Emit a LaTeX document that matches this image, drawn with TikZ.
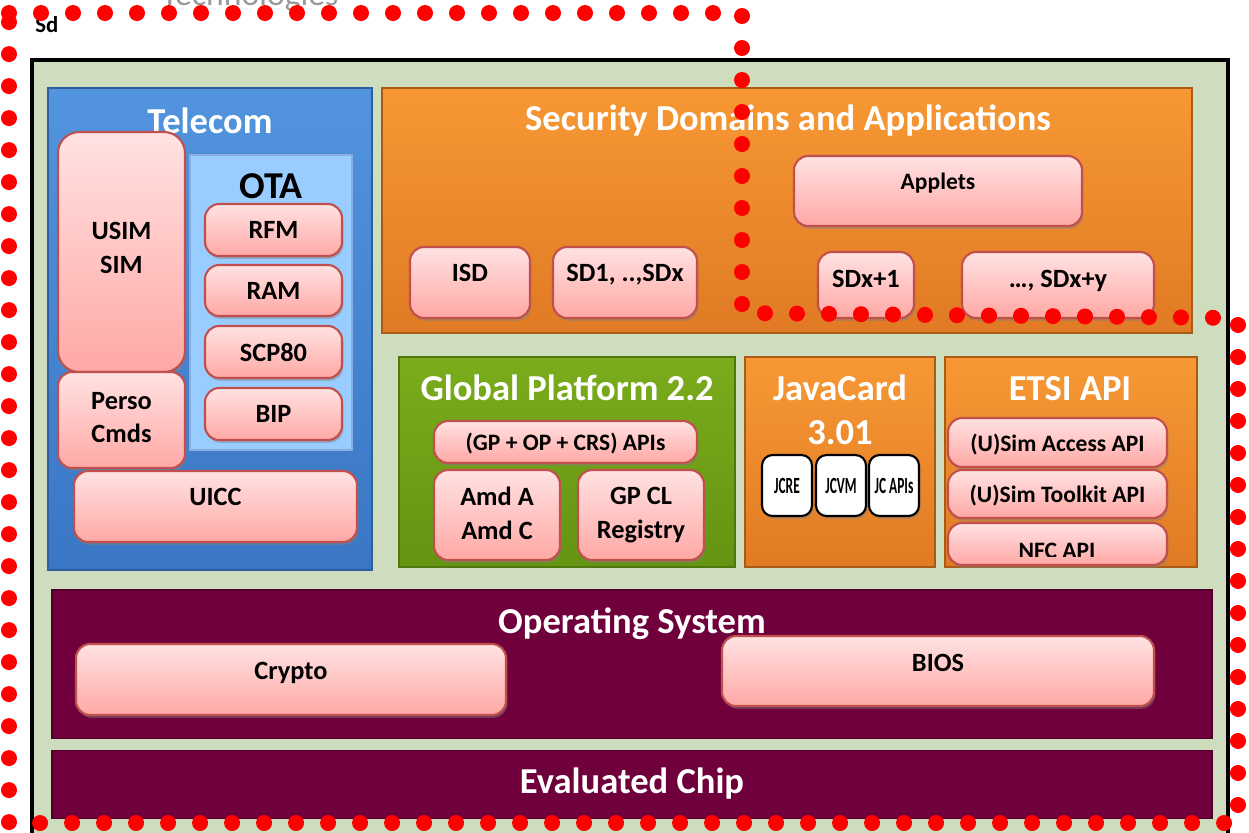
\documentclass[tikz,border=0pt]{standalone}
\usepackage{fontspec}
\setmainfont{Carlito}
\usetikzlibrary{fit,shadows}

\definecolor{framegreen}{RGB}{205,221,189}
\definecolor{teltop}{RGB}{82,148,222}
\definecolor{telbot}{RGB}{58,118,196}
\definecolor{otablue}{RGB}{153,204,255}
\definecolor{orangetop}{RGB}{247,152,52}
\definecolor{orangebot}{RGB}{224,122,36}
\definecolor{orangeline}{RGB}{170,90,20}
\definecolor{greentop}{RGB}{122,172,28}
\definecolor{greenbot}{RGB}{100,148,18}
\definecolor{maroon}{RGB}{112,0,60}
\definecolor{pinktop}{RGB}{255,226,226}
\definecolor{pinkbot}{RGB}{255,168,165}
\definecolor{pinkline}{RGB}{192,80,77}
\definecolor{dotred}{RGB}{255,0,0}

\newcommand{\titlefont}{\fontsize{10.4}{12.6}\selectfont\bfseries}
\newcommand{\boxfont}{\fontsize{7.5}{9.6}\selectfont\bfseries}
\newcommand{\apifont}{\fontsize{6.7}{8}\selectfont\bfseries}
\newcommand{\narrowtext}[1]{\scalebox{0.58}[1]{#1}}

\begin{document}
\begin{tikzpicture}[
  x=0.1mm, y=-0.1mm,
  panel/.style={inner sep=0pt, outer sep=0pt},
  bluepanel/.style={panel, top color=teltop, bottom color=telbot, draw=telbot!80!black, line width=0.3pt},
  orangepanel/.style={panel, top color=orangetop, bottom color=orangebot, draw=orangeline, line width=0.3pt},
  greenpanel/.style={panel, top color=greentop, bottom color=greenbot, draw=greenbot!80!black, line width=0.3pt},
  maroonpanel/.style={panel, fill=maroon, draw=maroon!70!black, line width=0.3pt},
  title/.style={text=white, font=\titlefont, align=center, text depth=0pt},
  pinkbox/.style={draw=pinkline, line width=0.6pt, rounded corners=4pt,
                  top color=pinktop, bottom color=pinkbot, inner sep=0pt,
                  font=\boxfont, align=center, text depth=0pt,
                  drop shadow={shadow xshift=0.4pt, shadow yshift=-0.8pt, opacity=0.45}},
  apibox/.style={pinkbox, font=\apifont},
  jcbox/.style={draw=black, line width=0.6pt, rounded corners=3pt, fill=white,
                inner sep=0pt, font=\fontsize{6.6}{8}\selectfont\bfseries, text depth=0pt,
                minimum width=5mm, minimum height=6.1mm,
                drop shadow={shadow xshift=0.4pt, shadow yshift=-0.8pt, opacity=0.45}},
  reddots/.style={draw=dotred, line width=1.6mm, line cap=round,
                  dash pattern=on 0mm off 3.2mm}
]
\useasboundingbox (0,0) rectangle (1249,832);

% header text cut by the page edge
\node[text=black!40, font=\fontsize{9.6}{11}\selectfont, anchor=base] (brand) at (250,5) {Technologies};
\node[font=\fontsize{6.5}{7}\selectfont\bfseries, anchor=west] (sd) at (23,25) {Sd};

% frame
\node[panel, draw=black, line width=1.2pt, fill=framegreen, fit={(32,60) (1228,845)}] (frame) {};

% Telecom
\node[bluepanel, fit={(48,88) (372,570)}] (telecom) {};
\node[title] (teltitle) at (210,121) {Telecom};
\node[pinkbox, rounded corners=6pt, text depth=2.3pt, minimum width=12.7mm, minimum height=24mm] (usim) at (121.5,252) {USIM\\SIM};
\node[panel, fill=otablue, draw=telbot!60, line width=0.3pt, fit={(190,155) (352,450)}] (ota) {};
\node[font=\fontsize{10.8}{12}\selectfont\bfseries, text depth=0pt] (otatitle) at (271,186) {OTA};
\node[pinkbox, minimum width=13.7mm, minimum height=5.2mm] (rfm) at (273.5,230) {RFM};
\node[pinkbox, minimum width=13.7mm, minimum height=5.1mm] (ram) at (273.5,290.5) {RAM};
\node[pinkbox, minimum width=13.7mm, minimum height=5.2mm] (scp) at (273.5,352) {SCP80};
\node[pinkbox, minimum width=13.7mm, minimum height=5.2mm] (bip) at (273.5,414) {BIP};
\node[pinkbox, text depth=1.4pt, minimum width=12.7mm, minimum height=9.6mm] (perso) at (121.5,420) {Perso\\Cmds};
\node[pinkbox, text depth=5.4pt, minimum width=28.3mm, minimum height=7.1mm] (uicc) at (215.5,506.5) {UICC};

% Security domains
\node[orangepanel, fit={(382,88) (1192,333)}] (secdom) {};
\node[title] (sectitle) at (788,118) {Security Domains and Applications};
\node[pinkbox, font=\apifont, text depth=5.7pt, minimum width=28.8mm, minimum height=7mm] (applets) at (938,191) {Applets};
\node[pinkbox, text depth=5.4pt, minimum width=12mm, minimum height=7.1mm] (isd) at (470,282.5) {ISD};
\node[pinkbox, text depth=5.4pt, minimum width=14.4mm, minimum height=7.1mm] (sdx) at (625,282.5) {SD1, ..,SDx};
\node[pinkbox, text depth=3.4pt, minimum width=9.6mm, minimum height=6.6mm] (sdx1) at (866,285) {SDx+1};
\node[pinkbox, text depth=3.4pt, minimum width=19.2mm, minimum height=6.6mm] (sdxy) at (1058,285) {…, SDx+y};

% Global Platform
\node[greenpanel, fit={(399,357) (735,567)}] (gp) {};
\node[title] (gptitle) at (567,388) {Global Platform 2.2};
\node[apibox, minimum width=26.3mm, minimum height=4.2mm] (gpapi) at (565.5,442) {(GP + OP + CRS) APIs};
\node[pinkbox, text depth=1.1pt, minimum width=12.6mm, minimum height=9mm] (amd) at (497,515) {Amd A\\Amd C};
\node[pinkbox, text depth=1.1pt, minimum width=12.6mm, minimum height=9mm] (gpcl) at (641,515) {GP CL\\Registry};

% JavaCard
\node[orangepanel, fit={(745,357) (935,567)}] (jc) {};
\node[title] (jctitle) at (840,410) {JavaCard\\3.01};
\node[jcbox] (jcre) at (787,485.5) {\narrowtext{JCRE}};
\node[jcbox] (jcvm) at (841,485.5) {\narrowtext{JCVM}};
\node[jcbox] (jcapi) at (894,485.5) {\narrowtext{JC APIs}};

% ETSI API
\node[orangepanel, fit={(945,357) (1197,567)}] (etsi) {};
\node[title] (etsititle) at (1070,388) {ETSI API};
\node[apibox, minimum width=21.9mm, minimum height=4.9mm] (access) at (1057.5,442.5) {(U)Sim Access API};
\node[apibox, minimum width=21.9mm, minimum height=4.8mm] (toolkit) at (1057.5,494) {(U)Sim Toolkit API};
\node[apibox, minimum width=21.9mm, minimum height=4.2mm] (nfc) at (1057.5,544) {};
\begin{scope}
  \clip (948,523) rectangle (1167,556);
  \node[font=\apifont, text depth=0pt] (nfctext) at (1057,551) {NFC API};
\end{scope}

% Operating system and chip
\node[maroonpanel, fit={(52,590) (1212,738)}] (os) {};
\node[title] (ostitle) at (632,621) {Operating System};
\node[pinkbox, text depth=4.8pt, minimum width=43mm, minimum height=7.1mm] (crypto) at (291,679.5) {Crypto};
\node[pinkbox, text depth=4.6pt, minimum width=43.2mm, minimum height=7mm] (bios) at (938,671) {BIOS};
\node[maroonpanel, fit={(52,750) (1212,818)}] (chip) {};
\node[title] (chiptitle) at (632,781) {Evaluated Chip};

% target of evaluation outline
\draw[reddots] (9,13) -- (742,13) -- (742,313) -- (1238,318) -- (1238,823) -- (9,823) -- cycle;

\end{tikzpicture}
\end{document}
